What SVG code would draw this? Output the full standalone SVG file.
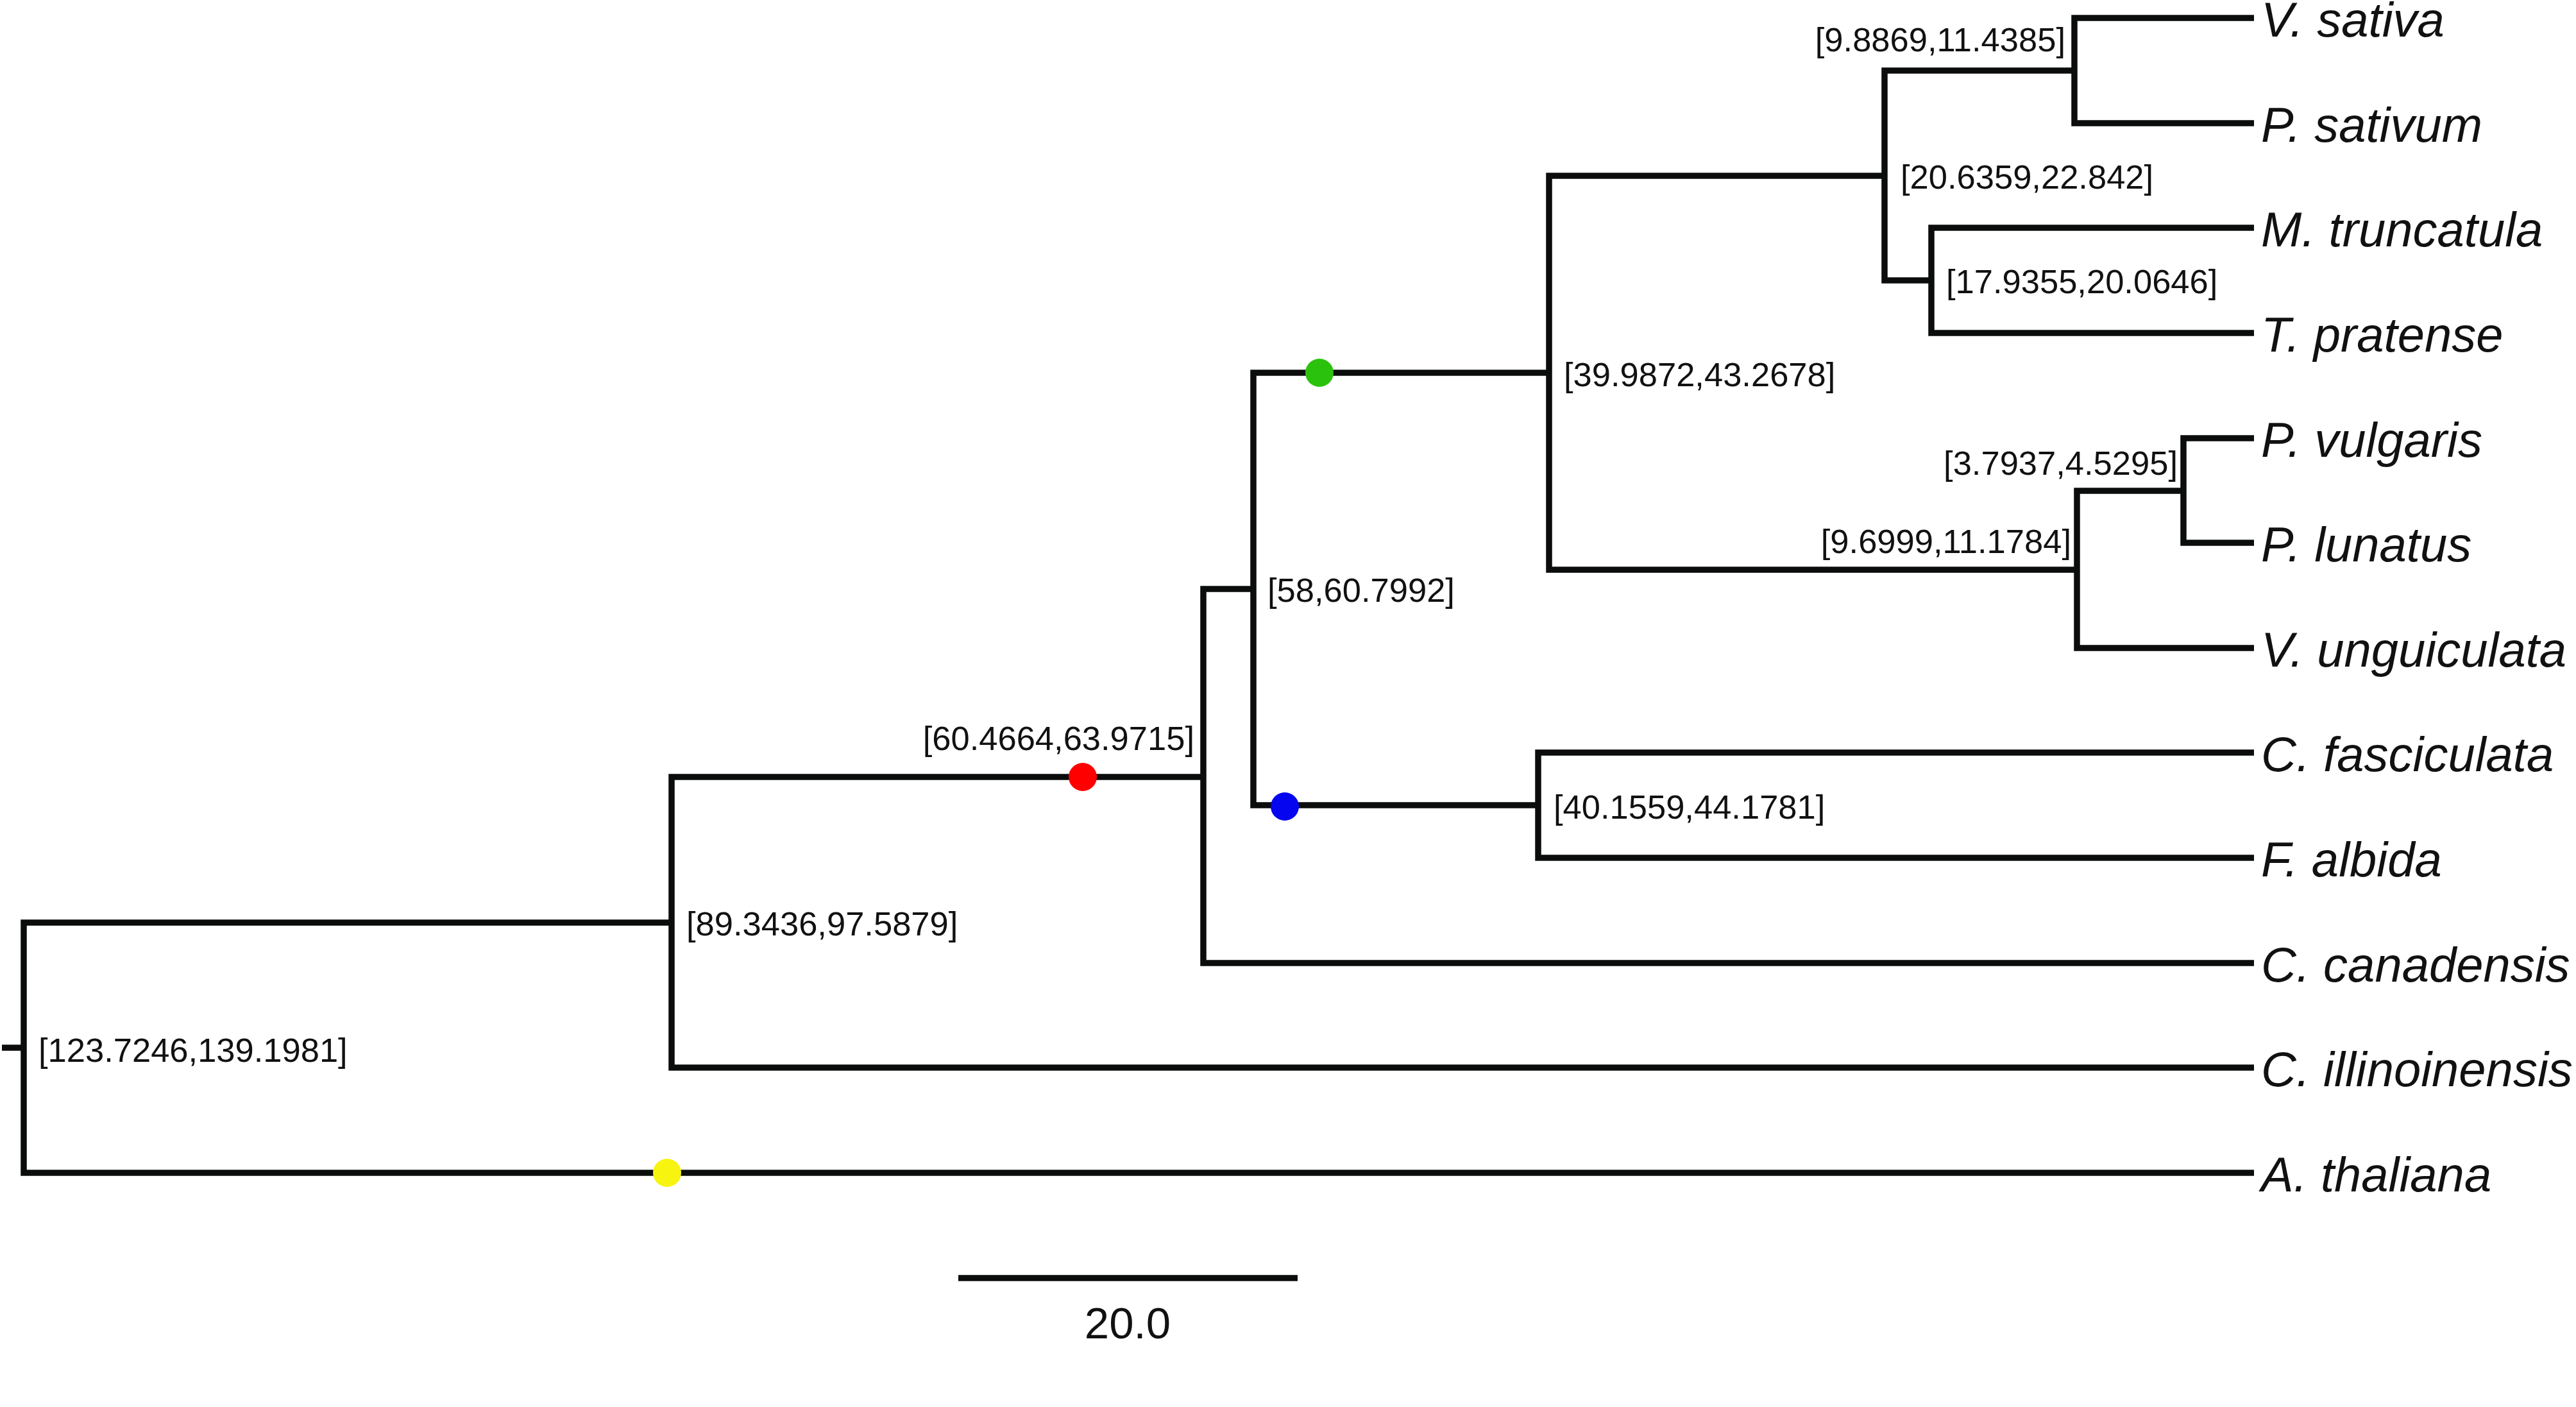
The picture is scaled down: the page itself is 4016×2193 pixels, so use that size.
<svg xmlns="http://www.w3.org/2000/svg" width="4016" height="2193" viewBox="0 0 4016 2193">
<style>
.br{fill:none;stroke:#0b0c0c;stroke-width:9.5;stroke-linejoin:miter;stroke-linecap:butt}
.nl{font-family:"Liberation Sans",Arial,sans-serif;font-size:52.5px;fill:#111}
.tl{font-family:"Liberation Sans",Arial,sans-serif;font-size:76px;font-style:italic;fill:#111}
.sl{font-family:"Liberation Sans",Arial,sans-serif;font-size:69px;fill:#111}
</style>
<rect width="4016" height="2193" fill="#fff"/>
<g id="connectors">
<path class="br" d="M3,1633 H37"/>
<path class="br" d="M1047,1438 H37 V1828 H3514"/>
<path class="br" d="M1876,1211 H1047 V1664 H3514"/>
<path class="br" d="M1954,918 H1876 V1501 H3514"/>
<path class="br" d="M2415,581 H1954 V1255 H2398"/>
<path class="br" d="M2938,274 H2415 V888 H3238"/>
<path class="br" d="M3234,110 H2938 V437 H3011"/>
<path class="br" d="M3514,28 H3234 V192 H3514"/>
<path class="br" d="M3514,355 H3011 V519 H3514"/>
<path class="br" d="M3404,765 H3238 V1010 H3514"/>
<path class="br" d="M3514,683 H3404 V846 H3514"/>
<path class="br" d="M3514,1173 H2398 V1337 H3514"/>
</g>
<g id="node-root"><text class="nl" x="60" y="1655">[123.7246,139.1981]</text></g>
<g id="node-A"><text class="nl" x="1070" y="1458">[89.3436,97.5879]</text></g>
<g id="node-B"><text class="nl" x="1862" y="1169" text-anchor="end">[60.4664,63.9715]</text></g>
<g id="node-C"><text class="nl" x="1976" y="938">[58,60.7992]</text></g>
<g id="node-D"><text class="nl" x="2438" y="602">[39.9872,43.2678]</text></g>
<g id="node-E"><text class="nl" x="2963" y="294">[20.6359,22.842]</text></g>
<g id="node-F"><text class="nl" x="3220" y="80" text-anchor="end">[9.8869,11.4385]</text></g>
<g id="node-G"><text class="nl" x="3034" y="457">[17.9355,20.0646]</text></g>
<g id="node-H"><text class="nl" x="3229" y="862" text-anchor="end">[9.6999,11.1784]</text></g>
<g id="node-I"><text class="nl" x="3395" y="740" text-anchor="end">[3.7937,4.5295]</text></g>
<g id="node-J"><text class="nl" x="2422" y="1276">[40.1559,44.1781]</text></g>
<g id="markers">
<circle id="dot-yellow" cx="1040" cy="1828" r="22" fill="#f7f410"/>
<circle id="dot-red" cx="1688" cy="1211" r="22" fill="#ff0000"/>
<circle id="dot-green" cx="2057" cy="581" r="22" fill="#2bc20e"/>
<circle id="dot-blue" cx="2003" cy="1257" r="22" fill="#0505f0"/>
</g>
<g id="tip-V-sativa"><text class="tl" x="3525" y="57">V. sativa</text></g>
<g id="tip-P-sativum"><text class="tl" x="3525" y="221">P. sativum</text></g>
<g id="tip-M-truncatula"><text class="tl" x="3525" y="384">M. truncatula</text></g>
<g id="tip-T-pratense"><text class="tl" x="3525" y="548">T. pratense</text></g>
<g id="tip-P-vulgaris"><text class="tl" x="3525" y="712">P. vulgaris</text></g>
<g id="tip-P-lunatus"><text class="tl" x="3525" y="875">P. lunatus</text></g>
<g id="tip-V-unguiculata"><text class="tl" x="3525" y="1039">V. unguiculata</text></g>
<g id="tip-C-fasciculata"><text class="tl" x="3525" y="1202">C. fasciculata</text></g>
<g id="tip-F-albida"><text class="tl" x="3525" y="1366">F. albida</text></g>
<g id="tip-C-canadensis"><text class="tl" x="3525" y="1530">C. canadensis</text></g>
<g id="tip-C-illinoinensis"><text class="tl" x="3525" y="1693">C. illinoinensis</text></g>
<g id="tip-A-thaliana"><text class="tl" x="3525" y="1857">A. thaliana</text></g>
<g id="scale-bar">
<path class="br" d="M1494,1992 H2023"/>
<text class="sl" x="1758" y="2086" text-anchor="middle">20.0</text>
</g>
</svg>
